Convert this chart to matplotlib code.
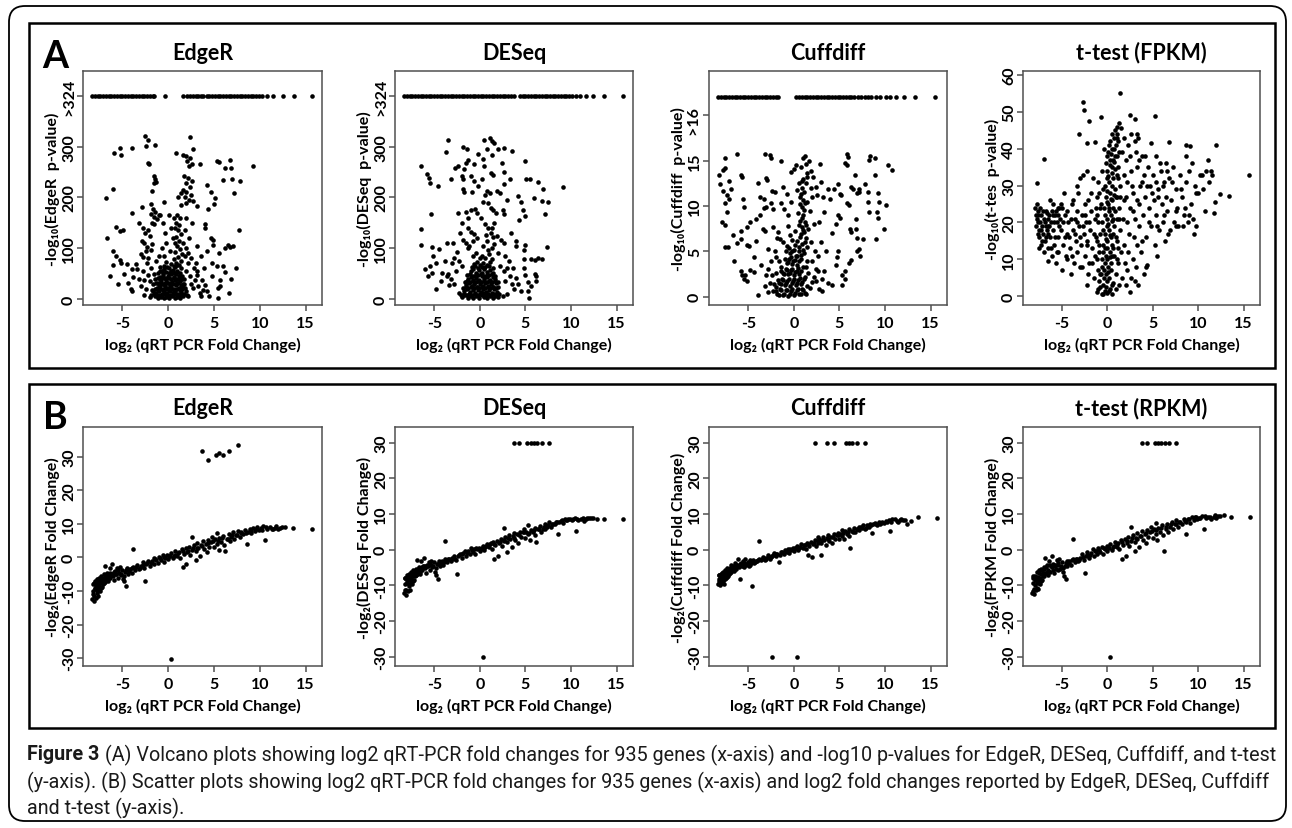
import matplotlib
matplotlib.use('Agg')
import matplotlib.pyplot as plt
from matplotlib.patches import FancyBboxPatch, Rectangle

W, H = 1292, 829
plt.rcParams['font.family'] = ['Lato', 'DejaVu Sans']
plt.rcParams['font.weight'] = 'bold'

# ---------------- Panel A: volcano plots ----------------
xticks = [-5, 0, 5, 10, 15]

# genes whose p-value underflowed (drawn on the ">324" / ">16" row)
edger_top_x = [-8.3, -8.0, -7.7, -7.4, -7.1, -6.8, -6.5, -6.2, -5.9, -5.6, -5.3, -5.0, -4.7, -4.4,
               -4.1, -3.8, -3.5, -3.2, -2.9, -2.6, -2.3, -2.0, -1.7, -1.5, -0.3, 1.6, 2.1, 2.4, 2.7,
               3.0, 3.3, 3.6, 3.8, 4.2, 4.5, 4.8, 5.1, 5.4, 5.7, 6.0, 6.3, 6.6, 6.9, 7.2, 7.5, 7.8,
               8.1, 8.4, 8.7, 9.0, 9.3, 9.6, 9.9, 10.3, 10.8, 11.5, 12.5, 13.7, 15.7]
deseq_top_x = [-8.3, -8.0, -7.7, -7.4, -7.1, -6.8, -6.5, -6.2, -5.9, -5.6, -5.3, -5.0, -4.7, -4.4,
               -4.1, -3.8, -3.5, -3.2, -2.9, -2.6, -2.3, -2.0, -1.7, -1.4, -1.1, -0.8, -0.5, -0.2,
               0.1, 0.4, 0.7, 1.0, 1.3, 1.6, 1.9, 2.2, 2.5, 2.8, 3.1, 3.4, 3.8, 4.4, 4.7, 5.0, 5.3,
               5.6, 5.9, 6.2, 6.5, 6.8, 7.1, 7.4, 7.7, 8.0, 8.3, 8.6, 8.9, 9.2, 9.5, 9.8, 10.1,
               10.5, 11.0, 11.6, 12.4, 13.6, 15.7]
cuff_top_x = [-8.3, -8.0, -7.7, -7.4, -7.1, -6.8, -6.5, -6.2, -5.9, -5.6, -5.3, -5.0, -4.7, -4.4,
              -4.1, -3.8, -3.5, -3.2, -2.9, -2.6, -2.3, -2.0, -1.7, 0.25, 0.6, 0.9, 1.2, 1.5, 1.8,
              2.1, 2.4, 2.7, 3.0, 3.3, 3.6, 3.9, 4.2, 4.5, 4.8, 5.1, 5.4, 5.7, 6.0, 6.3, 6.6, 7.0,
              7.4, 7.8, 8.1, 8.5, 9.0, 9.4, 10.1, 10.6, 11.2, 12.1, 13.3, 15.5]

edger_pts = [
    (-2.5, 321), (-2.2, 313), (-5.9, 287), (-5.3, 298), (-5.1, 283), (-4.0, 298), (-2.4, 301),
    (-1.4, 303), (-2.2, 268), (-2.1, 266), (-6.8, 199), (-6.0, 216), (-3.9, 170), (-5.7, 142),
    (-5.3, 134), (-4.9, 136), (-6.7, 120), (-6.0, 94), (-5.7, 84), (-5.3, 76), (-5.1, 71),
    (-6.0, 66), (-4.5, 68), (-4.0, 59), (-3.8, 43), (-4.1, 20), (-3.9, 15),
    (-1.5, 242), (-1.4, 236), (-1.6, 228), (-1.3, 230), (-1.8, 212), (-1.9, 186), (-1.7, 178),
    (-1.9, 168), (-1.6, 162), (-1.4, 172), (-1.2, 158), (-1.8, 150), (-1.5, 148), (-1.0, 166),
    (-2.7, 140), (-2.5, 130), (-2.2, 136), (-2.0, 124), (-2.6, 110), (-2.3, 103), (-1.9, 97),
    (-1.8, 108), (-0.9, 166), (0.1, 166),
    (0.9, 287), (1.6, 284), (2.4, 318), (1.9, 281), (2.4, 278), (2.7, 295), (2.1, 272),
    (2.6, 266), (2.3, 262), (3.5, 265), (1.7, 242), (2.2, 238), (2.6, 232), (1.9, 228),
    (2.4, 220), (1.6, 215), (2.0, 210), (2.5, 205), (1.4, 208), (1.8, 200), (2.3, 195),
    (2.7, 193), (1.9, 188), (3.1, 183), (4.2, 225), (4.7, 210), (5.1, 199), (5.0, 186),
    (4.4, 178), (5.3, 272), (5.6, 270), (6.7, 274), (6.9, 257), (6.2, 257), (6.0, 234),
    (7.0, 236), (7.2, 209), (7.8, 232), (9.3, 262), (4.0, 147), (4.0, 140), (4.7, 120),
    (4.9, 117), (4.9, 107), (5.5, 91), (6.2, 101), (6.5, 107), (6.8, 103), (7.1, 105),
    (7.7, 135), (4.8, 70), (5.3, 64), (6.0, 64), (6.2, 53), (5.7, 38), (5.7, 26), (5.4, 22),
    (5.4, 2), (4.8, 45), (4.2, 15), (3.7, 37), (3.1, 48), (2.4, 45), (2.7, 22), (3.5, 12),
    (1.0, 166), (1.3, 160), (0.9, 150), (1.2, 145), (0.8, 140), (1.1, 135), (1.4, 128),
    (0.9, 122), (1.2, 115), (0.7, 110), (1.0, 104), (1.3, 98), (0.8, 92), (1.5, 88), (1.1, 82),
    (0.6, 78), (1.4, 75), (0.9, 70), (1.2, 66), (-0.2, 110), (0.2, 95), (-0.5, 85), (1.8, 85),
    (2.2, 90), (2.5, 80), (3.0, 70), (-0.7, 100), (-1.0, 85), (-1.3, 75), (-2.3, 70),
    (-2.8, 55), (-3.2, 40), (-3.0, 25), (-2.6, 8), (-2.0, 3),
    (2.8, 60), (3.2, 55), (2.5, 30), (3.3, 25), (3.8, 18), (4.5, 5), (-1.6, 50), (-2.0, 35),
    (-2.4, 20), (-1.7, 15), (1.9, 15), (2.2, 5), (1.5, 45), (1.7, 30),
    (-1.4, 5), (-1.1, 2), (-0.8, 4), (-0.5, 1), (-0.2, 3), (0.1, 2), (0.4, 5), (0.7, 1),
    (1.0, 4), (1.3, 2), (1.6, 6), (-1.3, 12), (-1.0, 15), (-0.7, 10), (-0.4, 14), (-0.1, 11),
    (0.2, 16), (0.5, 12), (0.8, 15), (1.1, 10), (1.4, 14), (-1.2, 22), (-0.9, 25), (-0.6, 20),
    (-0.3, 26), (0.0, 21), (0.3, 24), (0.6, 19), (0.9, 27), (1.2, 22), (1.5, 25), (-1.1, 32),
    (-0.8, 35), (-0.5, 30), (-0.2, 36), (0.1, 31), (0.4, 34), (0.7, 38), (1.0, 32), (1.3, 36),
    (1.7, 40), (-0.9, 44), (-0.6, 48), (-0.3, 42), (0.0, 46), (0.3, 50), (0.6, 44), (0.9, 49),
    (1.2, 45), (-0.4, 58), (0.1, 60), (0.5, 56), (0.8, 62), (-0.7, 55), (1.0, 55), (0.3, 68),
    (-0.2, 72),
    (-1.85, 7), (-1.55, 9), (-1.25, 6), (-0.95, 8), (-0.65, 7), (-0.35, 9), (-0.05, 6),
    (0.25, 8), (0.55, 7), (0.85, 9), (1.15, 6), (1.45, 8), (1.75, 10), (2.05, 7),
    (-1.75, 18), (-1.45, 20), (-1.15, 17), (-0.85, 19), (-0.55, 18), (-0.25, 20), (0.05, 17),
    (0.35, 19), (0.65, 18), (0.95, 20), (1.25, 17), (1.55, 19), (1.85, 21),
    (-1.65, 29), (-1.35, 31), (-1.05, 28), (-0.75, 30), (-0.45, 29), (-0.15, 31), (0.15, 28),
    (0.45, 30), (0.75, 29), (1.05, 31), (1.35, 28), (1.65, 30),
    (-1.45, 40), (-1.15, 42), (-0.85, 39), (-0.55, 41), (-0.25, 40), (0.05, 42), (0.35, 39),
    (0.65, 41), (0.95, 40), (1.25, 42), (1.55, 39),
    (-1.15, 52), (-0.85, 54), (-0.55, 51), (-0.25, 53), (0.05, 52), (0.35, 54), (0.65, 51),
    (0.95, 53), (1.25, 52), (-0.9, 63), (-0.5, 65), (-0.1, 62), (0.6, 64), (1.0, 66), (1.4, 60),
    (-2.2, 48), (-2.6, 38), (-3.4, 58), (-3.0, 88), (-2.4, 95), (-2.9, 115), (-3.5, 68),
    (-4.4, 32), (-4.8, 50), (-5.5, 30), (-6.3, 45), (-2.7, 82), (2.0, 100), (2.3, 120),
    (1.8, 135), (2.6, 150), (2.0, 160), (1.6, 110), (3.2, 105), (3.6, 85), (3.9, 60), (4.2, 95),
    (2.9, 38), (3.6, 5), (4.0, 28), (6.6, 12), (6.9, 40), (7.4, 60), (0.5, 120), (0.3, 140),
    (-0.3, 130), (-0.6, 150), (0.6, 160), (1.4, 185), (1.1, 200), (-0.5, 190), (-2.9, 182),
    (-3.2, 150), (-0.4, 30), (1.9, 55), (2.2, 70), (-1.9, 60), (-2.2, 80)]

deseq_pts = [
    (-3.5, 313), (-3.7, 289), (-3.2, 237), (-1.8, 300), (-1.4, 296), (-0.2, 285), (0.5, 314),
    (1.1, 317), (1.3, 311), (1.6, 307), (0.8, 296), (2.0, 295), (2.6, 298), (3.5, 291),
    (2.4, 268), (1.3, 283), (0.5, 262), (-6.5, 262), (-5.8, 247), (-5.6, 239), (-5.5, 229),
    (-4.6, 222), (-5.4, 168), (-6.4, 137), (-6.4, 107), (-5.2, 103), (-4.5, 99), (-5.1, 84),
    (-4.8, 71), (-5.5, 64), (-5.2, 51), (-5.7, 45), (-3.6, 110), (-4.1, 51), (-3.6, 45),
    (-3.4, 28), (-2.7, 257), (-2.4, 262), (-2.0, 242), (-1.8, 237), (-1.7, 255), (-1.3, 274),
    (-1.5, 267), (-1.0, 242), (-1.8, 216), (-1.7, 211), (-0.6, 232), (-0.2, 222), (0.2, 236),
    (1.2, 249), (1.5, 245), (0.8, 213), (1.1, 209), (1.9, 213), (2.2, 208), (2.6, 226),
    (3.3, 236), (4.2, 203), (5.0, 272), (5.1, 237), (5.5, 237), (6.4, 230), (6.9, 216),
    (6.8, 193), (5.9, 199), (7.5, 191), (7.1, 168), (9.1, 220), (4.5, 191), (4.7, 175),
    (4.3, 155), (5.0, 164), (5.0, 107), (4.9, 97), (4.0, 114), (4.0, 104), (5.6, 79),
    (6.1, 76), (6.4, 81), (6.8, 79), (7.4, 102), (4.9, 79), (6.0, 50), (6.2, 45), (5.0, 48),
    (5.3, 33), (5.6, 25), (5.4, 2),
    (-1.5, 172), (-1.0, 175), (-0.5, 178), (-0.3, 170), (0.1, 160), (0.9, 188), (1.2, 180),
    (1.5, 175), (1.8, 170), (2.5, 175), (2.6, 168), (-1.3, 140), (-1.0, 132), (-0.6, 128),
    (-0.3, 120), (0.6, 148), (0.9, 140), (1.2, 130), (1.5, 122), (0.8, 115), (1.9, 124),
    (2.3, 117), (2.6, 110), (-1.8, 117), (-1.5, 110), (-1.3, 100),
    (-2.5, 92), (-2.8, 80), (-3.0, 70), (-2.3, 75), (-2.0, 65), (-2.6, 55), (-3.2, 40),
    (-2.8, 30), (-2.3, 12), (-1.8, 8), (-3.5, 50), (2.2, 65), (2.6, 55), (3.0, 60), (3.3, 45),
    (2.8, 35), (3.5, 30), (3.8, 20), (3.0, 10), (2.5, 5), (4.5, 15), (4.2, 30), (4.0, 42),
    (-1.9, 3), (-1.6, 8), (-1.3, 2), (-1.0, 6), (-0.7, 1), (-0.4, 5), (-0.1, 2), (0.2, 7),
    (0.5, 3), (0.8, 1), (1.1, 6), (1.4, 2), (1.7, 5), (2.0, 3), (-1.7, 15), (-1.4, 19),
    (-1.1, 13), (-0.8, 17), (-0.5, 12), (-0.2, 18), (0.1, 14), (0.4, 20), (0.7, 13), (1.0, 17),
    (1.3, 12), (1.6, 19), (1.9, 14), (-1.5, 27), (-1.2, 31), (-0.9, 25), (-0.6, 29),
    (-0.3, 24), (0.0, 30), (0.3, 26), (0.6, 32), (0.9, 25), (1.2, 29), (1.5, 24), (1.8, 31),
    (-1.3, 40), (-1.0, 44), (-0.7, 38), (-0.4, 42), (-0.1, 37), (0.2, 45), (0.5, 39),
    (0.8, 43), (1.1, 38), (1.4, 44), (1.7, 40), (-1.0, 54), (-0.7, 58), (-0.4, 51), (-0.1, 56),
    (0.2, 52), (0.5, 58), (0.8, 53), (1.1, 57), (1.4, 52), (-0.6, 68), (-0.3, 72), (0.0, 66),
    (0.4, 70), (0.8, 66), (1.1, 72), (0.6, 80), (0.2, 85), (1.0, 88), (-0.4, 90), (0.9, 96),
    (1.3, 100), (0.4, 104), (1.6, 108),
    (-2.05, 8), (-1.75, 10), (-1.45, 7), (-1.15, 10), (-0.85, 8), (-0.55, 10), (-0.25, 7),
    (0.05, 9), (0.35, 11), (0.65, 8), (0.95, 10), (1.25, 7), (1.55, 10), (1.85, 8), (2.15, 10),
    (-1.85, 22), (-1.55, 24), (-1.25, 21), (-0.95, 23), (-0.65, 22), (-0.35, 24), (-0.05, 21),
    (0.25, 23), (0.55, 22), (0.85, 24), (1.15, 21), (1.45, 23), (1.75, 22), (2.05, 24),
    (-1.65, 34), (-1.35, 36), (-1.05, 33), (-0.75, 35), (-0.45, 34), (-0.15, 36), (0.15, 33),
    (0.45, 35), (0.75, 34), (1.05, 36), (1.35, 33), (1.65, 35), (1.95, 34),
    (-1.35, 47), (-1.05, 49), (-0.75, 46), (-0.45, 48), (-0.15, 47), (0.15, 49), (0.45, 46),
    (0.75, 48), (1.05, 47), (1.35, 49), (1.65, 46),
    (-0.85, 62), (-0.55, 64), (-0.2, 61), (0.2, 63), (0.6, 62), (1.0, 64), (1.4, 61), (1.3, 78),
    (0.0, 80), (-0.7, 84), (-1.2, 105), (-0.8, 115), (0.7, 125), (1.3, 140), (-2.0, 150),
    (-2.4, 170), (0.3, 190), (0.6, 205), (1.6, 150), (-1.3, 160), (-2.2, 130), (2.0, 90),
    (2.8, 85), (3.2, 75), (3.6, 60), (-2.9, 110), (-3.8, 75), (-4.3, 35), (-4.8, 20),
    (-6.0, 58), (4.8, 60), (5.3, 15), (6.2, 35), (3.4, 130), (3.0, 195), (-0.9, 210),
    (2.7, 250), (-0.6, 265), (0.3, 275)]

cuff_pts = [
    (-8.2, 13.4), (-8.1, 12.4), (-7.8, 14.0), (-7.6, 14.2), (-7.5, 15.3), (-7.8, 11.7),
    (-7.5, 10.4), (-7.1, 12.8), (-6.9, 11.9), (-7.3, 11.2), (-7.1, 10.8), (-7.3, 9.3),
    (-7.9, 8.2), (-7.6, 7.9), (-7.6, 5.5), (-7.2, 5.5), (-6.6, 3.9), (-6.2, 5.9), (-6.7, 6.8),
    (-5.8, 7.3), (-5.8, 6.4), (-6.2, 15.8), (-5.8, 13.4), (-5.7, 13.2), (-5.6, 10.8),
    (-5.5, 9.9), (-5.1, 7.7), (-5.1, 5.7), (-4.9, 5.6), (-4.8, 8.2), (-4.1, 8.6), (-3.7, 9.0),
    (-4.2, 6.2), (-4.4, 4.4), (-3.9, 12.6), (-3.7, 11.0), (-3.3, 10.8), (-3.2, 15.7),
    (-2.6, 15.6), (-2.5, 15.3), (-3.0, 13.1), (-2.9, 12.9), (-3.3, 9.8), (-3.0, 9.9),
    (-3.4, 7.5), (-3.2, 7.3), (-2.4, 11.7), (-2.1, 11.6), (-2.5, 10.3), (-2.3, 9.7),
    (-2.3, 7.7), (-1.4, 15.0), (-1.2, 12.1), (-1.4, 10.4), (-1.1, 9.7), (-1.7, 7.2),
    (-1.5, 6.4), (-1.2, 6.1), (-0.3, 13.8), (0.0, 14.1), (0.2, 14.5), (1.0, 15.3), (1.2, 15.5),
    (0.8, 14.3), (1.3, 14.6), (1.3, 12.6), (1.5, 13.7), (1.9, 13.9),
    (0.6, 12.5), (0.9, 12.0), (0.8, 11.3), (1.0, 10.7), (0.7, 10.2), (1.1, 9.6), (0.5, 9.2),
    (0.9, 8.7), (1.2, 8.2), (0.6, 7.9), (1.0, 7.4), (0.8, 6.9), (1.3, 6.5), (0.4, 6.2),
    (0.9, 5.8), (1.4, 5.5), (0.6, 5.1), (1.1, 4.8), (0.3, 4.5), (0.8, 4.2), (1.5, 4.0),
    (1.6, 7.5), (1.8, 9.5), (1.4, 10.5), (2.0, 11.0), (2.2, 8.0), (1.9, 6.0), (2.3, 5.0),
    (2.4, 12.1), (2.5, 11.2), (2.9, 14.6), (3.8, 11.9), (4.4, 11.9), (4.0, 10.8), (3.3, 9.3),
    (2.8, 8.2), (4.8, 12.4), (5.1, 11.3), (5.2, 11.2), (5.8, 15.7), (5.9, 15.4), (5.6, 14.8),
    (5.8, 14.5), (6.3, 12.1), (6.5, 11.9), (6.7, 13.4), (6.9, 11.5), (7.1, 11.6), (7.2, 11.9),
    (5.8, 10.4), (6.0, 10.1), (4.9, 9.0), (5.1, 8.7), (4.6, 8.0), (6.8, 8.6), (6.8, 7.5),
    (6.9, 6.5), (7.6, 6.4), (7.8, 12.4), (8.3, 15.1), (8.4, 15.5), (8.9, 15.3), (8.9, 13.4),
    (8.1, 11.6), (8.1, 10.5), (8.2, 9.3), (9.2, 11.4), (9.3, 10.5), (10.1, 10.1), (9.9, 7.5),
    (10.3, 14.5), (10.8, 14.0), (9.1, 9.3), (9.2, 8.7), (9.0, 6.4), (6.2, 7.5), (6.3, 7.1),
    (7.1, 5.3), (6.9, 5.0), (7.3, 4.5), (6.3, 4.1), (6.0, 3.7), (5.6, 2.8), (4.9, 5.0),
    (4.7, 4.4), (4.6, 3.5), (5.3, 2.4), (5.6, 2.0), (5.3, 1.3), (3.8, 1.5), (4.2, 1.3),
    (3.3, 2.8), (3.1, 2.0), (2.4, 1.7), (2.8, 0.9), (3.1, 0.6), (2.0, 3.9), (2.4, 3.1),
    (-5.8, 2.8), (-5.7, 2.4), (-5.5, 2.0), (-5.3, 2.4), (-5.1, 1.7), (-4.8, 3.0), (-4.4, 2.7),
    (-3.9, 0.2), (-3.0, 2.4), (-2.8, 3.1), (-2.5, 3.9), (-2.1, 5.0), (-1.9, 4.4), (-2.3, 0.6),
    (-1.9, 1.1), (-2.4, 2.4),
    (-1.8, 0.3), (-1.5, 0.9), (-1.2, 0.2), (-0.9, 0.7), (-0.6, 0.1), (-0.3, 0.6), (0.0, 0.2),
    (0.3, 0.8), (0.6, 0.3), (0.9, 0.9), (1.2, 0.4), (-1.6, 1.5), (-1.3, 2.0), (-1.0, 1.3),
    (-0.7, 1.8), (-0.4, 1.2), (-0.1, 1.7), (0.2, 1.3), (0.5, 1.9), (0.8, 1.4), (1.1, 2.0),
    (-1.2, 2.6), (-0.9, 3.1), (-0.6, 2.5), (-0.3, 3.0), (0.0, 2.4), (0.3, 2.9), (0.6, 2.5),
    (-0.8, 3.7), (-0.5, 4.2), (-0.2, 3.6), (0.1, 4.1), (0.4, 3.5), (-0.4, 4.8), (0.0, 5.2),
    (-0.7, 5.6), (-0.2, 6.3), (-1.4, 3.3), (-2.0, 2.6), (-1.6, 4.0), (-2.2, 1.4), (1.4, 1.2),
    (1.6, 2.6), (1.3, 3.3),
    (-1.95, 0.6), (-1.65, 0.2), (-1.35, 0.7), (-1.05, 0.3), (-0.75, 0.8), (-0.45, 0.3),
    (-0.15, 0.9), (0.15, 0.4), (0.45, 0.9), (0.75, 0.3), (1.05, 0.8), (1.35, 0.3),
    (-1.75, 1.9), (-1.45, 1.4), (-1.15, 1.9), (-0.85, 1.5), (-0.55, 2.0), (-0.25, 1.5),
    (0.05, 2.0), (0.35, 1.5), (0.65, 2.1), (0.95, 1.6), (1.25, 2.2),
    (-1.35, 2.9), (-1.05, 2.5), (-0.75, 3.0), (-0.45, 2.6), (-0.15, 3.1), (0.15, 2.7),
    (0.45, 3.2), (0.75, 2.8), (1.05, 3.3), (-1.0, 4.2), (-0.65, 3.8), (-0.35, 4.4),
    (-0.05, 3.9), (0.25, 4.5), (0.55, 4.0), (-0.9, 5.0), (-0.5, 5.4), (-0.2, 5.0), (0.1, 5.7),
    (-0.4, 6.8), (0.1, 7.3), (-0.6, 7.8),
    (0.75, 4.6), (1.05, 5.2), (0.55, 5.5), (1.25, 6.0), (0.65, 6.6), (1.15, 7.1), (0.85, 7.7),
    (1.35, 7.9), (0.65, 8.4), (1.05, 9.0), (0.85, 9.9), (1.25, 10.3), (0.7, 11.0), (1.1, 11.6),
    (0.9, 12.8), (1.4, 13.2), (1.0, 13.0),
    (2.6, 4.5), (3.0, 6.0), (3.5, 5.0), (2.2, 2.2), (2.7, 2.8), (1.8, 1.0), (2.0, 1.6),
    (-2.6, 1.5), (-3.2, 1.2), (-2.8, 0.5), (-1.8, 6.5), (-2.8, 5.3), (-3.6, 3.5), (1.9, 12.0),
    (2.1, 13.2), (3.2, 11.0), (4.2, 7.0), (3.0, 12.7), (-0.8, 11.3), (-0.6, 9.0), (-0.3, 10.5),
    (0.3, 11.8), (1.7, 15.0)]

ttest_pts = [
    (1.4, 55), (-2.7, 52.6), (-2.6, 50.4), (-2.0, 47.4), (-0.7, 48.7), (2.5, 49.1), (3.0, 48.2),
    (5.2, 48.9), (-3.1, 43.9), (-2.3, 41.6), (-1.4, 41.7), (-7.0, 37.2), (-7.8, 30.7),
    (15.6, 32.9), (13.4, 27.1), (12.4, 27.6), (11.9, 41.0), (11.8, 25.6), (11.1, 37.0),
    (6.8, 41.7), (4.8, 41.5), (8.6, 41.0), (9.1, 40.8),
    (-8.0, 24), (-7.9, 22), (-7.8, 21), (-7.7, 23), (-7.6, 20), (-7.5, 18), (-7.5, 16),
    (-7.4, 24), (-7.3, 22), (-7.3, 14), (-7.2, 19), (-7.1, 17), (-7.0, 21), (-7.0, 12),
    (-6.9, 15), (-6.8, 23), (-6.8, 19), (-6.7, 18), (-6.6, 9.5), (-6.5, 13), (-6.4, 22),
    (-6.3, 16), (-6.2, 20), (-6.1, 11), (-6.0, 25), (-6.0, 18), (-5.9, 14), (-5.8, 22),
    (-5.7, 9), (-5.6, 20), (-5.5, 16), (-5.4, 12), (-5.3, 24), (-5.2, 21), (-5.1, 18),
    (-5.0, 7), (-5.0, 24), (-4.9, 14), (-4.8, 28), (-4.7, 22), (-4.6, 11), (-4.5, 17),
    (-4.3, 20), (-4.1, 13), (-4.0, 6), (-3.9, 25), (-3.8, 18), (-3.7, 9), (-3.6, 21),
    (-3.5, 15), (-3.4, 23), (-3.3, 12), (-3.2, 28), (-3.1, 19), (-3.0, 8), (-2.9, 14),
    (-2.8, 22), (-2.7, 33), (-2.6, 17), (-2.5, 25), (-2.5, 11), (-2.4, 20), (-2.3, 3),
    (-2.2, 15), (-2.1, 26), (-2.0, 9), (-1.9, 18), (-1.8, 23), (-1.7, 13), (-1.6, 32),
    (-1.5, 5), (-1.4, 21), (-1.3, 16), (-1.2, 27), (-1.1, 10), (-1.0, 20), (-1.0, 2),
    (-0.9, 14), (-0.8, 24), (-0.8, 6), (-7.5, 13), (-7.2, 15), (-6.6, 21), (-6.0, 22),
    (-5.7, 23), (-5.4, 24), (-4.0, 21), (-3.8, 26), (-4.4, 10), (-3.0, 32), (-2.2, 34),
    (-3.4, 30), (-6.3, 26),
    (-0.6, 0.5), (-0.3, 1.5), (0.0, 0.8), (0.3, 2), (-0.5, 3), (-0.1, 4), (0.2, 5), (-0.7, 6),
    (-0.4, 7), (0.1, 8), (0.4, 9), (-0.6, 10), (-0.2, 11), (0.3, 12), (0.6, 13), (-0.5, 14),
    (0.0, 15), (0.4, 16), (-0.3, 17), (0.2, 18), (0.7, 19), (-0.6, 20), (-0.1, 21), (0.4, 22),
    (0.8, 23), (-0.4, 24), (0.1, 25), (0.5, 26), (-0.2, 27), (0.3, 28), (0.8, 29), (-0.3, 30),
    (0.2, 31), (0.6, 32), (1.0, 33), (0.0, 34), (0.5, 35), (-0.2, 36), (0.3, 37), (0.8, 38),
    (0.1, 39), (0.5, 40), (0.9, 41), (0.3, 42), (0.7, 43), (1.1, 44), (0.8, 45), (1.2, 42),
    (1.0, 38), (1.2, 35), (1.4, 30), (1.1, 27), (1.3, 24), (1.0, 21), (1.4, 18), (1.1, 15),
    (1.5, 12), (1.2, 9), (0.9, 6), (1.3, 3), (-0.8, 2.5), (-0.9, 12), (-0.8, 17), (-0.7, 25),
    (-0.5, 29), (-0.6, 34), (1.6, 39), (1.8, 43), (1.5, 45.5), (-1.2, 1), (-0.9, 4), (0.5, 0.5),
    (0.6, 3.5), (-0.2, 6), (0.0, 10), (0.7, 11), (-0.3, 13), (0.9, 16), (-0.1, 19), (0.6, 21),
    (0.2, 24), (0.9, 27), (-0.1, 32), (0.6, 37),
    (1.8, 33), (2.0, 27), (2.2, 20), (2.3, 12), (2.5, 38), (2.6, 44), (2.7, 30), (2.8, 23),
    (2.9, 16), (3.0, 42), (3.1, 8), (3.2, 35), (3.3, 26), (3.4, 43), (3.5, 19), (3.6, 30),
    (3.7, 12), (3.8, 38), (3.9, 22), (4.0, 33), (4.1, 27), (4.2, 8), (4.3, 16), (4.5, 35),
    (4.6, 24), (4.7, 30), (4.8, 19), (5.0, 33), (5.1, 26), (5.2, 14), (5.3, 38), (5.4, 22),
    (5.5, 11), (5.6, 29), (5.7, 18), (5.9, 34), (6.0, 25), (6.1, 20), (6.2, 31), (6.3, 15),
    (6.4, 36), (6.5, 27), (6.6, 23), (6.7, 17), (6.8, 32), (7.0, 26), (7.2, 35), (7.3, 20),
    (7.5, 29), (7.7, 24), (7.8, 19), (8.0, 33), (8.2, 27), (8.4, 22), (8.6, 38), (8.7, 31),
    (8.9, 20), (9.0, 34), (9.2, 25), (9.4, 21), (9.5, 17), (9.6, 30), (9.8, 19), (10.0, 28),
    (10.2, 33), (10.5, 29), (10.7, 23), (10.9, 34), (11.2, 31), (11.5, 33), (11.7, 22.5),
    (1.6, 5), (2.0, 3), (2.5, 1), (3.0, 4), (3.4, 3), (4.0, 6), (4.4, 8.5), (2.8, 10),
    (2.2, 7), (1.8, 14), (1.7, 21), (2.0, 37),
    (-0.45, 0.5), (-0.15, 2.5), (0.15, 1.5), (0.45, 3), (-0.35, 5), (0.05, 6.5), (0.35, 7),
    (-0.55, 8), (-0.25, 9), (0.25, 10.5), (0.55, 11), (-0.45, 12), (-0.05, 13), (0.45, 14),
    (-0.2, 15.5), (0.25, 16.5), (0.6, 17), (-0.45, 18), (0.05, 19.5), (0.45, 20.5), (-0.3, 22),
    (0.15, 23), (0.6, 24), (-0.1, 25.5), (0.35, 26.5), (0.7, 27.5), (-0.05, 28.5), (0.45, 30),
    (0.05, 32.5), (0.45, 33.5), (0.85, 34.5), (0.25, 35.5), (0.7, 36.5), (-0.05, 38),
    (0.4, 38.5), (0.75, 40), (0.2, 41), (0.55, 44), (1.0, 46), (1.3, 47), (1.0, 43), (1.3, 39),
    (1.2, 32), (1.4, 27), (1.3, 21), (1.2, 13), (1.0, 10), (0.9, 2), (-1.0, 7), (-1.1, 15),
    (-1.2, 22), (-0.9, 28), (-1.0, 31), (-0.4, 40),
    (-7.9, 19), (-7.8, 25), (-7.7, 17), (-7.6, 22), (-7.4, 20), (-7.3, 18), (-7.1, 23),
    (-6.9, 20), (-6.8, 16), (-6.7, 22.5), (-6.6, 19), (-6.5, 17), (-6.4, 19), (-6.2, 13),
    (-6.1, 23), (-5.9, 20), (-5.8, 16), (-5.6, 12), (-5.5, 22), (-5.3, 19), (-5.1, 25),
    (-4.9, 20), (-4.7, 16), (-4.5, 23), (-4.2, 16), (-3.9, 11), (-3.6, 17), (-3.3, 20),
    (-3.0, 16), (-2.7, 19), (-2.5, 22), (-2.3, 14), (-2.0, 20), (-1.8, 28), (-1.5, 17),
    (-1.3, 24), (-1.7, 9), (-2.1, 6), (-2.8, 8), (-1.4, 11),
    (1.8, 26), (2.1, 31), (2.3, 41), (2.6, 34), (2.8, 28), (3.1, 39), (3.3, 44), (3.5, 37),
    (3.8, 31), (4.1, 38), (4.4, 30), (4.9, 28), (5.3, 31), (5.8, 36), (6.1, 30), (6.6, 34),
    (7.1, 31), (7.5, 23), (8.1, 29), (8.5, 24), (9.3, 36), (9.8, 28), (10.4, 33), (11.4, 34),
    (2.4, 17), (3.0, 21), (3.8, 15), (4.6, 20), (5.5, 19), (6.2, 22), (6.9, 18), (7.6, 19),
    (8.3, 19), (9.0, 22), (2.6, 5), (3.2, 14), (1.9, 9), (2.5, 24), (5.6, 27), (3.5, 25)]

# ---------------- Panel B: fold change scatter ----------------
qpcr_fc = [-8.3, -8.2, -8.2, -8.1, -8.0, -8.0, -7.9, -7.9, -7.8, -7.8,
           -7.7, -7.7, -7.6, -7.5, -7.5, -7.4, -7.3, -7.3, -7.2, -7.1,
           -7.0, -7.0, -6.9, -6.8, -6.7, -6.6, -6.5, -6.4, -6.3, -6.2,
           -6.1, -6.0, -5.9, -5.8, -5.7, -5.6, -5.5, -5.4, -5.3, -5.2,
           -5.0, -4.9, -4.8, -4.7, -4.6, -4.5, -4.4, -4.2, -4.0, -3.8,
           -3.8, -3.6, -3.4, -3.2, -3.0, -2.8, -2.6, -2.5, -2.4, -2.2,
           -2.0, -1.8, -1.6, -1.5, -1.3, -1.1, -1.0, -0.8, -0.6, -0.5,
           -0.3, -0.1, 0.0, 0.2, 0.3, 0.5, 0.7, 0.8, 1.0, 1.2,
           1.3, 1.5, 1.6, 1.7, 1.9, 2.0, 2.1, 2.3, 2.4, 2.6,
           2.6, 2.8, 3.0, 3.0, 3.2, 3.3, 3.5, 3.6, 3.8, 3.9,
           4.1, 4.2, 4.4, 4.5, 4.7, 4.8, 5.0, 5.1, 5.3, 5.3,
           5.5, 5.6, 5.8, 6.0, 6.1, 6.2, 6.4, 6.6, 6.7, 6.9,
           7.1, 7.2, 7.4, 7.6, 7.8, 8.0, 8.2, 8.4, 8.6, 8.7,
           8.9, 9.1, 9.3, 9.5, 9.7, 9.9, 10.1, 10.4, 10.6, 10.8,
           11.1, 11.4, 11.7, 12.0, 12.4, 13.6, 15.7,
           -8.25, -8.15, -8.05, -7.95, -7.85, -7.75, -7.65, -7.55, -7.45, -7.35,
           -7.25, -7.15, -7.05, -6.95, -6.85, -6.75, -6.55, -6.35, -6.15, -5.95,
           -5.75, -5.45, -5.15, -4.85, -4.55, -4.25, -3.95, -3.5, -3.1, -2.7,
           -2.3, -1.9, -1.4, -0.9, -0.4, 0.1, 0.6, 1.1, 1.6, 2.2,
           2.7, 3.1, 3.7, 4.3, 4.9, 5.4, 5.9, 6.5, 7.0, 7.5,
           7.9, 8.5, 9.0, 9.6, 10.2, 10.7, 11.3, 11.8, 12.2, 12.8]

edger_fc = [-12.5, -11.0, -8.0, -13.0, -9.5, -7.0, -12.0, -8.5, -10.5, -6.5,
            -7.8, -11.5, -9.0, -6.0, -8.2, -10.0, -7.0, -5.5, -8.8, -6.5,
            -7.5, -5.0, -2.5, -6.2, -4.5, -7.0, -5.5, -3.0, -6.0, -4.8,
            -2.0, -5.5, -6.8, -4.0, -5.0, -3.2, -6.0, -4.5, -2.8, -5.2,
            -3.8, -6.5, -7.0, -4.2, -8.5, -3.0, -5.0, -3.5, -4.5, 2.5,
            -2.8, -3.8, -2.2, -3.5, -2.5, -1.5, -3.2, -7.0, -2.0, -1.0,
            -2.6, -1.2, -0.2, -2.0, -0.8, -1.6, 0.2, -0.9, 0.6, -1.4,
            -0.2, 0.8, -0.6, 0.3, 1.4, -0.3, 0.8, 2.0, 0.4, 1.5,
            -0.2, 2.4, -2.8, 1.0, 2.8, -2.0, 1.5, 3.2, 0.8, 6.2,
            2.2, 3.8, -0.8, 1.9, 4.3, 2.8, 0.5, 3.6, 5.0, 2.4,
            4.0, 1.6, 5.2, 3.2, 4.6, 6.0, 3.0, 5.4, 7.3, 4.0,
            2.3, 5.8, 4.6, 6.5, 3.8, 2.0, 5.6, 7.0, 4.8, 6.2,
            7.5, 5.4, 6.8, 8.0, 6.0, 7.5, 7.0, 8.2, 4.0, 7.6,
            8.4, 7.2, 8.8, 8.0, 9.0, 8.3, 8.7, 9.2, 5.1, 8.6,
            9.0, 8.4, 8.9, 8.6, 9.1, 8.8, 8.6,
            -10.0, -7.5, -11.5, -9.0, -7.2, -9.8, -8.0, -6.8, -7.5, -9.2,
            -6.0, -7.8, -6.8, -5.8, -7.2, -5.2, -6.5, -4.5, -5.0, -4.2,
            -4.8, -3.8, -4.8, -5.5, -3.8, -4.0, -3.2, -2.8, -3.0, -2.2,
            -1.8, -1.6, -0.5, -0.3, 0.2, 0.4, 0.4, 1.2, 1.8, 2.0,
            2.9, 2.9, 3.5, 4.4, 4.8, 5.0, 5.8, 5.6, 6.6, 6.6,
            7.4, 7.4, 8.0, 8.5, 8.2, 9.0, 8.6, 9.2, 8.7, 9.0]

deseq_fc = [-12.2, -11.3, -7.8, -12.8, -9.2, -7.2, -11.7, -8.3, -10.2, -6.8,
            -7.5, -11.2, -8.7, -6.2, -8.0, -9.7, -7.3, -5.8, -8.5, -6.2,
            -7.2, -5.3, -2.8, -6.0, -4.8, -6.7, -5.2, -3.3, -5.7, -4.5,
            -2.3, -5.2, -6.5, -4.3, -4.7, -3.5, -5.7, -4.2, -3.1, -4.9,
            -3.5, -6.2, -7.2, -4.0, -8.2, -3.3, -4.7, -3.2, -4.2, 2.4,
            -2.5, -3.5, -2.5, -3.2, -2.2, -1.8, -2.9, -6.8, -1.7, -1.3,
            -2.3, -0.9, -0.5, -1.7, -0.5, -1.3, 0.5, -0.6, 0.3, -1.1,
            0.1, 0.5, -0.3, 0.6, 1.1, 0.0, 1.1, 1.7, 0.7, 1.8,
            0.1, 2.1, -2.6, 1.3, 2.5, -1.7, 1.8, 2.9, 1.1, 6.0,
            2.5, 3.5, -0.6, 2.2, 4.0, 3.1, 0.8, 3.9, 4.7, 2.7,
            4.3, 1.9, 4.9, 3.5, 4.9, 5.7, 3.3, 5.1, 7.0, 4.3,
            2.6, 5.5, 4.9, 6.2, 4.1, 2.3, 5.9, 6.7, 5.1, 5.9,
            7.2, 5.7, 6.5, 7.7, 6.3, 7.2, 7.3, 7.9, 4.3, 7.9,
            8.1, 7.5, 8.5, 8.3, 8.7, 8.6, 8.4, 8.9, 5.3, 8.3,
            8.7, 8.1, 8.6, 8.9, 8.8, 8.7, 8.5,
            -9.7, -7.8, -11.2, -8.7, -7.5, -9.5, -8.3, -7.1, -7.2, -8.9,
            -6.3, -7.5, -7.1, -6.1, -6.9, -5.5, -6.2, -4.8, -4.7, -4.5,
            -4.5, -4.1, -4.5, -5.2, -4.1, -3.7, -3.5, -2.5, -2.7, -2.5,
            -1.5, -1.3, -0.8, 0.0, 0.5, 0.1, 0.7, 1.5, 1.5, 2.3,
            2.6, 3.2, 3.2, 4.1, 5.1, 4.7, 5.5, 5.9, 6.3, 6.9,
            7.1, 7.7, 8.3, 8.2, 8.5, 8.7, 8.9, 8.9, 9.0, 8.7]

cuff_fc = [-9.5, -8.8, -7.0, -10.0, -8.5, -6.8, -9.2, -7.8, -8.7, -6.2,
           -7.2, -9.5, -8.3, -5.8, -7.5, -8.0, -6.5, -5.2, -7.3, -6.0,
           -6.5, -5.0, -4.3, -5.8, -4.5, -6.0, -5.2, -3.8, -5.5, -4.3,
           -2.5, -4.8, -8.3, -3.8, -4.5, -3.2, -4.9, -4.0, -2.7, -4.3,
           -3.5, -4.5, -3.0, -3.8, -10.3, -2.9, -3.8, -3.2, -3.3, 2.5,
           -2.7, -3.0, -2.0, -2.8, -2.3, -1.6, -2.6, -2.1, -1.8, -1.0,
           -1.8, -1.1, -3.5, -1.5, -0.7, -1.2, -0.1, -0.6, 0.3, -0.8,
           0.0, 0.6, -0.3, 0.4, 1.1, 0.0, 0.8, 1.6, 0.5, 1.3,
           0.2, 2.0, -1.5, 1.1, 2.3, -2.0, 1.5, 2.7, 1.0, 3.5,
           2.0, 3.0, -1.5, 2.0, 3.5, 2.6, 1.3, 3.2, 4.0, 2.4,
           3.6, 2.0, 4.3, 3.0, 4.1, 4.8, 3.1, 4.5, 5.6, 3.8,
           3.0, 5.2, 4.4, 5.8, 3.8, 0.6, 5.3, 6.2, 4.9, 5.9,
           6.5, 5.4, 6.3, 6.8, 5.9, 6.8, 6.5, 7.3, 4.8, 7.1,
           7.5, 6.8, 7.7, 7.1, 7.9, 7.4, 8.0, 8.4, 5.3, 8.6,
           8.5, 7.8, 8.2, 8.3, 7.3, 9.2, 8.8,
           -8.2, -7.0, -9.0, -7.9, -6.6, -8.5, -7.3, -6.2, -6.9, -7.7,
           -5.6, -6.8, -6.2, -5.3, -6.3, -4.8, -5.6, -4.3, -4.6, -3.9,
           -4.2, -3.6, -4.1, -4.3, -3.4, -3.5, -2.9, -2.6, -2.5, -2.0,
           -1.6, -1.3, -0.6, -0.4, 0.1, 0.5, 0.6, 1.2, 1.6, 1.9,
           2.4, 2.6, 3.1, 3.7, 4.0, 4.6, 4.9, 5.1, 5.7, 6.1,
           6.2, 6.9, 7.2, 7.4, 7.7, 7.9, 8.1, 8.6, 8.2, 8.0]

ttest_fc = [-12.0, -11.5, -7.5, -12.5, -9.8, -7.3, -11.3, -8.0, -10.8, -6.3,
            -7.6, -11.0, -9.3, -5.8, -8.5, -9.5, -6.8, -5.3, -8.6, -6.8,
            -7.3, -4.8, -2.2, -6.5, -4.2, -7.2, -5.8, -3.2, -6.3, -4.5,
            -1.8, -5.8, -6.5, -4.3, -5.3, -3.0, -5.7, -4.2, -2.5, -5.5,
            -3.5, -6.2, -7.5, -4.5, -8.2, -3.3, -4.7, -3.2, -4.2, 3.0,
            -2.5, -3.5, -2.5, -3.2, -2.2, -1.2, -2.9, -6.5, -1.7, -0.7,
            -2.3, -0.9, 0.1, -1.7, -0.5, -1.3, 0.5, -0.6, 0.9, -1.1,
            0.1, 1.1, -0.3, 0.6, 1.7, 0.0, 1.1, 2.3, 0.7, 1.8,
            0.1, 2.7, -2.5, 1.3, 3.1, -1.7, 1.8, 3.5, 1.1, 6.5,
            2.5, 4.1, -0.5, 2.2, 4.6, 3.1, 0.8, 3.9, 5.3, 2.7,
            4.3, 1.9, 5.5, 3.5, 4.9, 6.3, 3.3, 5.7, 7.6, 4.3,
            2.6, 6.1, 4.9, 6.8, 4.1, -0.5, 5.9, 7.3, 5.1, 6.5,
            7.8, 5.7, 7.1, 8.3, 6.3, 7.8, 7.3, 8.5, 4.5, 7.9,
            8.7, 7.5, 9.1, 8.3, 9.3, 8.6, 9.0, 9.5, 5.8, 8.9,
            9.3, 8.7, 9.2, 9.0, 9.4, 9.3, 9.1,
            -9.4, -7.9, -11.0, -8.4, -7.7, -9.0, -7.9, -6.6, -7.8, -8.7,
            -5.8, -7.3, -6.6, -5.5, -6.6, -4.9, -6.0, -4.3, -4.8, -4.0,
            -4.6, -3.6, -4.6, -5.0, -3.6, -3.8, -3.0, -2.6, -2.8, -2.0,
            -1.6, -1.4, -0.3, -0.1, 0.5, 0.7, 0.8, 1.6, 2.2, 2.4,
            3.3, 3.4, 3.9, 4.8, 5.3, 5.5, 6.2, 6.3, 7.1, 7.2,
            7.8, 8.0, 8.6, 9.1, 8.9, 9.5, 9.2, 9.6, 9.4, 9.7]

# genes at the extremes of the method fold change
edger_out_x = [3.7, 4.4, 5.2, 5.6, 6.0, 6.6, 7.6, 0.3]
edger_out_y = [31.6, 29.0, 30.5, 31.0, 30.6, 31.6, 33.3, -30.2]
deseq_out_x = [3.8, 4.3, 5.2, 5.6, 5.9, 6.3, 6.8, 7.6, 0.3]
deseq_out_y = [30, 30, 30, 30, 30, 30, 30, 30, -30]
cuff_out_x = [2.3, 3.6, 4.4, 5.7, 6.0, 6.4, 6.9, 7.8, -2.4, 0.3]
cuff_out_y = [30, 30, 30, 30, 30, 30, 30, 30, -30, -30]
ttest_out_x = [3.8, 4.4, 5.2, 5.6, 5.9, 6.3, 6.8, 7.6, 0.3]
ttest_out_y = [30, 30, 30, 30, 30, 30, 30, 30, -30]

caption_l1 = ("(A) Volcano plots showing log2 qRT-PCR fold changes for 935 genes (x-axis) "
              "and -log10 p-values for EdgeR, DESeq, Cuffdiff, and t-test")
caption_l2 = ("(y-axis). (B) Scatter plots showing log2 qRT-PCR fold changes for 935 genes "
              "(x-axis) and log2 fold changes reported by EdgeR, DESeq, Cuffdiff")
caption_l3 = "and t-test (y-axis)."

# ---------------- drawing ----------------
fig = plt.figure(figsize=(W / 100, H / 100), dpi=100)
AX_COL = '#505050'
XLAB = 'log\u2082 (qRT PCR Fold Change)'


def px_axes(l, t, r, b):
    ax = fig.add_axes([l / W, 1 - b / H, (r - l) / W, (b - t) / H])
    for s in ax.spines.values():
        s.set_color(AX_COL)
        s.set_linewidth(1.1)
    ax.tick_params(direction='out', length=4.5, width=1.1, color=AX_COL, labelsize=11.5)
    ax.tick_params(axis='x', pad=3.5)
    ax.tick_params(axis='y', pad=0.5)
    ax.set_xlim(-9.3, 16.8)
    ax.set_xticks(xticks)
    ax.set_xticklabels([str(v) for v in xticks])
    return ax


def dots(ax, x, y):
    ax.plot(x, y, 'o', ms=3.3, color='black', mec='none', clip_on=False)


def finish(ax, title, ylabel, yt, ytl, ylim):
    ax.set_ylim(*ylim)
    ax.set_yticks(yt)
    ax.set_yticklabels(ytl, rotation=90, va='center')
    ax.set_title(title, fontsize=15.5, fontweight='bold', pad=9)
    ax.set_ylabel(ylabel, fontsize=11.5, fontweight='bold', labelpad=1.5)
    ax.set_xlabel(XLAB, fontsize=11.5, fontweight='bold', labelpad=5)


cols = [(83, 322), (395, 633), (709, 947), (1023, 1260)]

# panel A
a_axes = [px_axes(l, 72, r, 306) for l, r in cols]
volc = [
    ('EdgeR', '-log\u2081\u2080(EdgeR  p-value)', edger_top_x, 400, edger_pts,
     [0, 100, 200, 300, 400], ['0', '100', '200', '300', '>324'], (-12, 449)),
    ('DESeq', '-log\u2081\u2080(DESeq  p-value)', deseq_top_x, 400, deseq_pts,
     [0, 100, 200, 300, 400], ['0', '100', '200', '300', '>324'], (-12, 449)),
    ('Cuffdiff', '-log\u2081\u2080(Cuffdiff  p-value)', cuff_top_x, 22, cuff_pts,
     [0, 5, 10, 15, 20], ['0', '5', '10', '15', '>16   '], (-0.9, 24.9)),
    ('t-test (FPKM)', '-log\u2081\u2080(t-tes  p-value)', [], 0, ttest_pts,
     [0, 10, 20, 30, 40, 50, 60], ['0', '10', '20', '30', '40', '50', '60'], (-2.4, 61.1)),
]
for ax, (title, ylab, topx, topy, pts, yt, ytl, ylim) in zip(a_axes, volc):
    xs, ys = zip(*pts)
    dots(ax, xs, ys)
    if topx:
        dots(ax, topx, [topy] * len(topx))
    finish(ax, title, ylab, yt, ytl, ylim)

# panel B
b_axes = [px_axes(l, 428, r, 667) for l, r in cols]
scat = [
    ('EdgeR', '-log\u2082(EdgeR Fold Change)', edger_fc, edger_out_x, edger_out_y, (-32.3, 38.8)),
    ('DESeq', '-log\u2082(DESeq Fold Change)', deseq_fc, deseq_out_x, deseq_out_y, (-32.6, 34.4)),
    ('Cuffdiff', '-log\u2082(Cuffdiff Fold Change)', cuff_fc, cuff_out_x, cuff_out_y, (-32.6, 34.4)),
    ('t-test (RPKM)', '-log\u2082(FPKM Fold Change)', ttest_fc, ttest_out_x, ttest_out_y, (-32.6, 34.4)),
]
byt = [-30, -20, -10, 0, 10, 20, 30]
for ax, (title, ylab, yv, ox, oy, ylim) in zip(b_axes, scat):
    dots(ax, qpcr_fc, yv)
    dots(ax, ox, oy)
    finish(ax, title, ylab, byt, [str(v) for v in byt], ylim)

# frames
inch = fig.dpi_scale_trans
fig.patches.append(FancyBboxPatch((9 / 100, (H - 822) / 100), 1277 / 100, 815 / 100,
                                  boxstyle='round,pad=0,rounding_size=0.16',
                                  fill=False, lw=1.3, ec='black', transform=inch, figure=fig))
fig.patches.append(Rectangle((29 / 100, (H - 369) / 100), 1246 / 100, 345 / 100,
                             fill=False, lw=1.8, ec='black', transform=inch, figure=fig))
fig.patches.append(Rectangle((29 / 100, (H - 729) / 100), 1246 / 100, 344 / 100,
                             fill=False, lw=1.8, ec='black', transform=inch, figure=fig))

fig.text(55 / W, 1 - 57 / H, 'A', fontsize=27, fontweight='bold', ha='center', va='center')
fig.text(55 / W, 1 - 418 / H, 'B', fontsize=27, fontweight='bold', ha='center', va='center')

# caption: first line is fitted to span the frame width
cap_font = ['Roboto', 'DejaVu Sans']
cap_col = '#1a1a1a'
size = 13.0
lead = fig.text(27 / W, 1 - 755 / H, 'Figure 3', fontsize=size, fontweight='bold',
                family=cap_font, va='center', color=cap_col)
body = fig.text(0, 1 - 755 / H, caption_l1, fontsize=size, fontweight='normal',
                family=cap_font, va='center', color=cap_col)
fig.canvas.draw()
lw = lead.get_window_extent().width
bw = body.get_window_extent().width
gap = 5
size = size * (1274 - 27) / (lw + gap + bw)
lead.set_fontsize(size)
body.set_fontsize(size)
body.set_x((27 + (lw + gap) * size / 13.0) / W)
fig.text(27 / W, 1 - 782 / H, caption_l2, fontsize=size, fontweight='normal',
         family=cap_font, va='center', color=cap_col)
fig.text(27 / W, 1 - 808 / H, caption_l3, fontsize=size, fontweight='normal',
         family=cap_font, va='center', color=cap_col)

fig.savefig('out.png', dpi=100)
